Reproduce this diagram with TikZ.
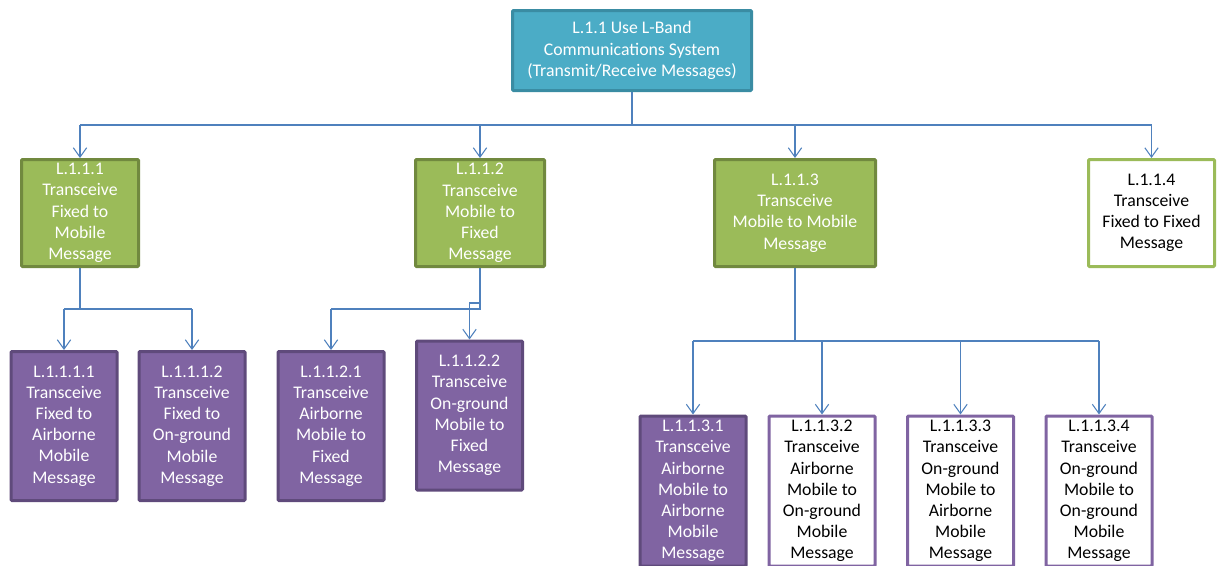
\documentclass[tikz,border=0pt]{standalone}
\usepackage{fontspec}
\setmainfont{Carlito}
\usetikzlibrary{arrows.meta}
\definecolor{tealF}{HTML}{4BACC6}
\definecolor{tealB}{HTML}{3A8CA3}
\definecolor{greenF}{HTML}{9BBB59}
\definecolor{greenB}{HTML}{71893F}
\definecolor{purpF}{HTML}{8064A2}
\definecolor{purpB}{HTML}{5F4A7B}
\definecolor{conn}{HTML}{4F81BD}
\tikzset{
  box/.style={rectangle, line width=2.25pt, inner sep=0pt, align=center,
    font=\fontsize{13.3}{15.9}\selectfont, rounded corners=0.8pt},
  tealbox/.style={box, fill=tealF, draw=tealB, text=white},
  greenbox/.style={box, fill=greenF, draw=greenB, text=white},
  greenwhite/.style={box, fill=white, draw=greenF, text=black},
  purpbox/.style={box, fill=purpF, draw=purpB, text=white},
  purpwhite/.style={box, fill=white, draw=purpF, text=black},
  lvtwo/.style={minimum height=80.25pt},
  lvthree/.style={minimum width=79.5pt, minimum height=111.75pt},
  lvfour/.style={minimum width=79.5pt, minimum height=112.5pt},
  link/.style={draw=conn, line width=1pt},
  arr/.style={link, -{Straight Barb[length=7pt,width=10pt,line width=0.8pt]}}
}
\begin{document}
\begin{tikzpicture}[x=0.75pt, y=-0.75pt]
\useasboundingbox (0,0) rectangle (1217,565);
% root
\node[tealbox, minimum width=179.25pt, minimum height=60pt] (root) at (632,50.5)
  {L.1.1 Use L-Band\\Communications System\\(Transmit/Receive Messages)};
% level 2
\node[greenbox, lvtwo, minimum width=87.75pt] (n1) at (80,213)
  {L.1.1.1\\Transceive\\Fixed to\\Mobile\\Message};
\node[greenbox, lvtwo, minimum width=96.75pt] (n2) at (480,213)
  {L.1.1.2\\Transceive\\Mobile to\\Fixed\\Message};
\node[greenbox, lvtwo, minimum width=120.75pt] (n3) at (795,213)
  {L.1.1.3\\Transceive\\Mobile to Mobile\\Message};
\node[greenwhite, lvtwo, minimum width=94.5pt] (n4) at (1151.5,213)
  {L.1.1.4\\Transceive\\Fixed to Fixed\\Message};
% level 3
\node[purpbox, lvthree] (n11) at (64,426)
  {L.1.1.1.1\\Transceive\\Fixed to\\Airborne\\Mobile\\Message};
\node[purpbox, lvthree] (n12) at (192,426)
  {L.1.1.1.2\\Transceive\\Fixed to\\On-ground\\Mobile\\Message};
\node[purpbox, lvthree] (n21) at (331,426)
  {L.1.1.2.1\\Transceive\\Airborne\\Mobile to\\Fixed\\Message};
\node[purpbox, lvthree] (n22) at (469.5,415.5)
  {L.1.1.2.2\\Transceive\\On-ground\\Mobile to\\Fixed\\Message};
\node[purpbox, lvfour] (n31) at (693,491)
  {L.1.1.3.1\\Transceive\\Airborne\\Mobile to\\Airborne\\Mobile\\Message};
\node[purpwhite, lvfour] (n32) at (822,491)
  {L.1.1.3.2\\Transceive\\Airborne\\Mobile to\\On-ground\\Mobile\\Message};
\node[purpwhite, lvfour] (n33) at (960.5,491)
  {L.1.1.3.3\\Transceive\\On-ground\\Mobile to\\Airborne\\Mobile\\Message};
\node[purpwhite, lvfour] (n34) at (1099,491)
  {L.1.1.3.4\\Transceive\\On-ground\\Mobile to\\On-ground\\Mobile\\Message};
% connectors root
\coordinate (b0) at (632,125);
\coordinate (b1) at (80,309);
\coordinate (b2) at (480,309);
\coordinate (b2a) at (480,303);
\coordinate (b3) at (795,341);
\draw[link] (root.south) -- (b0);
\draw[link] (n1 |- b0) -- (n4 |- b0);
\foreach \n in {n1,n2,n3,n4} \draw[arr] (\n |- b0) -- (\n.north);
% L.1.1.1
\draw[link] (n1.south) -- (b1);
\draw[link] (n11 |- b1) -- (n12 |- b1);
\draw[arr] (n11 |- b1) -- (n11.north);
\draw[arr] (n12 |- b1) -- (n12.north);
% L.1.1.2
\draw[link] (n2.south) -- (b2) -- (n21 |- b2);
\draw[arr] (n21 |- b2) -- (n21.north);
\draw[arr] (b2a) -- (n22 |- b2a) -- (n22.north);
% L.1.1.3
\draw[link] (n3.south) -- (b3);
\draw[link] (n31 |- b3) -- (n34 |- b3);
\foreach \n in {n31,n32,n33,n34} \draw[arr] (\n |- b3) -- (\n.north);
\end{tikzpicture}
\end{document}
